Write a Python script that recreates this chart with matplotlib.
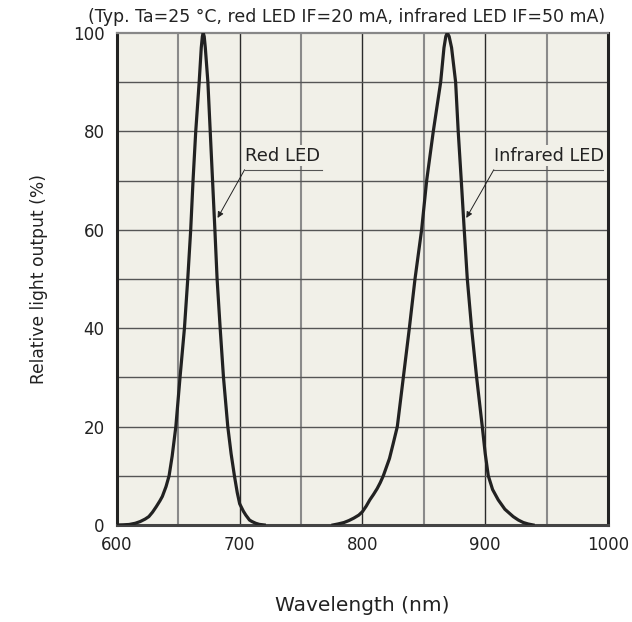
"""
Relative spectral output of red and infrared LEDs vs wavelength.
"""
import matplotlib.pyplot as plt
import numpy as np

# Red LED spectrum (nm, % relative output)
red_nm = np.array([600, 605, 610, 615, 619, 623, 626, 629, 632, 635, 637, 640, 642.5, 645,
                   648, 651.4, 655, 657.7, 660.1, 662, 664.2, 667, 668.7, 669.6, 670.3,
                   671.1, 672, 674.1, 676, 677.9, 679.8, 681.6, 684.1, 686.8, 690.3,
                   693, 695.7, 698, 700, 703, 705, 708, 710, 713, 716, 720])
red_val = np.array([0, 0.03, 0.1, 0.35, 0.7, 1.2, 1.7, 2.6, 3.7, 4.9, 5.8, 7.8, 10, 14,
                    20, 30, 40, 50, 60, 70, 80, 90, 97, 99.3, 100,
                    99.3, 97, 90, 80, 70, 60, 50, 40, 30, 20,
                    14.5, 10, 6.6, 4.3, 2.8, 2.0, 1.0, 0.7, 0.35, 0.12, 0])

# Infrared LED spectrum
ir_nm = np.array([776, 780, 785, 789, 793, 797, 800, 803, 806, 809, 812, 814.5, 817, 822,
                  825, 828.4, 833.3, 838.2, 842.8, 848.2, 852.3, 857.7, 863.7, 866.4,
                  867.9, 869.1, 870.6, 872.6, 875.9, 878, 880.5, 882.9, 885.4, 888.9,
                  893, 897.6, 900, 902.5, 906, 910.6, 916, 922.8, 927, 931, 935, 939])
ir_val = np.array([0, 0.2, 0.5, 0.9, 1.4, 2.0, 2.7, 3.8, 5.1, 6.2, 7.4, 8.6, 10, 13.5,
                   16.5, 20, 30, 40, 50, 60, 70, 80, 90, 97,
                   99.3, 100, 99.3, 97, 90, 80, 70, 60, 50, 40,
                   30, 20, 14.5, 10, 7.2, 5.1, 3.2, 1.7, 1.0, 0.5, 0.2, 0])

x_ticks = [600, 700, 800, 900, 1000]
y_ticks = [0, 20, 40, 60, 80, 100]

bg = '#f1f0e8'
ink = '#222222'

fig = plt.figure(figsize=(6.32, 6.22), dpi=100)
ax = fig.add_axes([0.185, 0.156, 0.777, 0.791])
ax.set_facecolor(bg)

# grid: dark at 100 nm steps, lighter at 50 nm
for x in np.arange(650, 1000, 50):
    if x % 100 == 0:
        ax.axvline(x, color='#2a2a2a', lw=1.0, zorder=1)
    else:
        ax.axvline(x, color='#8a8a8a', lw=1.5, zorder=1)
for y in np.arange(10, 100, 10):
    ax.axhline(y, color='#555555', lw=1.0, zorder=1)

ax.plot(red_nm, red_val, color=ink, lw=2.3, zorder=3, solid_joinstyle='round')
ax.plot(ir_nm, ir_val, color=ink, lw=2.3, zorder=3, solid_joinstyle='round')

ax.set_xlim(600, 1000)
ax.set_ylim(0, 100)
ax.set_xticks(x_ticks)
ax.set_yticks(y_ticks)
ax.tick_params(length=0, labelsize=12, colors=ink)
ax.tick_params(axis='x', pad=8)
ax.tick_params(axis='y', pad=9)

for side in ['left', 'right']:
    ax.spines[side].set_color(ink)
    ax.spines[side].set_linewidth(2.2)
ax.spines['bottom'].set_color('#444444')
ax.spines['bottom'].set_linewidth(2.2)
ax.spines['top'].set_color('#888888')
ax.spines['top'].set_linewidth(1.6)

ax.set_xlabel('Wavelength (nm)', fontsize=14.5, color=ink, labelpad=30)
ax.set_ylabel('Relative light output (%)', fontsize=12.3, color=ink, labelpad=18)

fig.text(0.549, 0.972, '(Typ. Ta=25 °C, red LED IF=20 mA, infrared LED IF=50 mA)',
         ha='center', va='center', fontsize=12.5, color=ink)

# curve labels with underline and leader arrow
labels = [('Red LED', 704, 767, 682, 13), ('Infrared LED', 907, 996, 884.6, 12.7)]
for text, x0, x1, tip, fs in labels:
    ax.text(x0 + 0.5, 73.2, text, fontsize=fs, color=ink, ha='left', va='bottom',
            zorder=2, bbox=dict(facecolor=bg, edgecolor='none', pad=1.0))
    ax.plot([x0, x1], [72.2, 72.2], color='#555555', lw=0.8, zorder=5)
    ax.annotate('', xy=(tip, 62.4), xytext=(x0, 72.2), zorder=5,
                arrowprops=dict(arrowstyle='-|>', color=ink, lw=0.7,
                                mutation_scale=9, shrinkA=0, shrinkB=0))

plt.savefig('out.png', dpi=100, facecolor='white')
